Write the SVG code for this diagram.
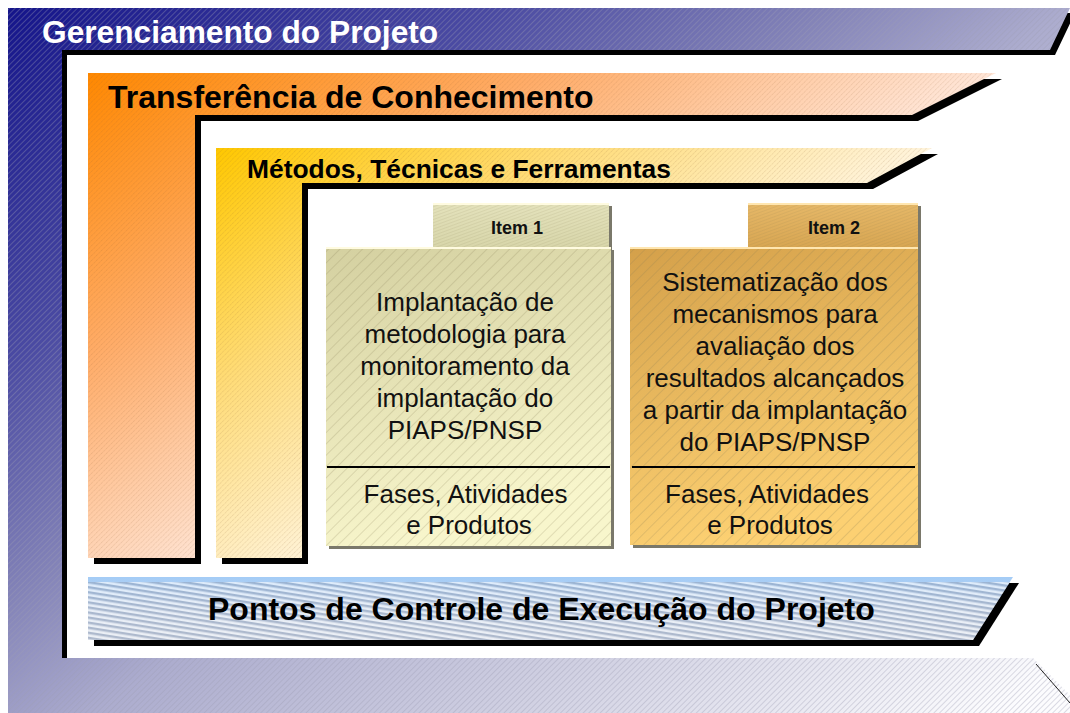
<svg xmlns="http://www.w3.org/2000/svg" width="1070" height="713" viewBox="0 0 1070 713">
<style>
.hd{font-family:"Liberation Sans",Arial,sans-serif;font-weight:bold;fill:#000}
.bd{font-family:"Liberation Sans",Arial,sans-serif;font-size:26px;fill:#111;text-anchor:middle}
.tab{font-family:"Liberation Sans",Arial,sans-serif;font-weight:bold;font-size:18px;fill:#111;text-anchor:middle}
.sh{fill:#000}
.bsh{fill:#7a786a}
.div{stroke:#000;stroke-width:2}
</style>
<defs>
<linearGradient id="gFrame" gradientUnits="userSpaceOnUse" x1="8" y1="8" x2="681" y2="942">
<stop offset="0" stop-color="#14148a"/>
<stop offset="0.25" stop-color="#4a4aa2"/>
<stop offset="0.42" stop-color="#8484b8"/>
<stop offset="0.54" stop-color="#acacce"/>
<stop offset="0.75" stop-color="#d0d0e2"/>
<stop offset="1" stop-color="#fcfcfe"/>
</linearGradient>
<linearGradient id="gOrange" gradientUnits="userSpaceOnUse" x1="88" y1="73" x2="345" y2="483">
<stop offset="0" stop-color="#ff8800"/>
<stop offset="0.5" stop-color="#ffac68"/>
<stop offset="1" stop-color="#ffe6d8"/>
</linearGradient>
<linearGradient id="gYellow" gradientUnits="userSpaceOnUse" x1="216" y1="148" x2="440" y2="480">
<stop offset="0" stop-color="#ffc800"/>
<stop offset="0.5" stop-color="#ffdc78"/>
<stop offset="1" stop-color="#fff4dc"/>
</linearGradient>
<linearGradient id="gBlue" x1="0" y1="0" x2="0" y2="1">
<stop offset="0" stop-color="#a4ccf6"/>
<stop offset="0.5" stop-color="#c4d4ea"/>
<stop offset="1" stop-color="#d0d8e6"/>
</linearGradient>
<linearGradient id="gI1" x1="0" y1="0" x2="0.3" y2="1">
<stop offset="0" stop-color="#d4d0a0"/>
<stop offset="1" stop-color="#f8f6cc"/>
</linearGradient>
<linearGradient id="gI1t" x1="0" y1="0" x2="0" y2="1">
<stop offset="0" stop-color="#e4e2bc"/>
<stop offset="1" stop-color="#d8d6aa"/>
</linearGradient>
<linearGradient id="gI2" x1="0" y1="0" x2="0.3" y2="1">
<stop offset="0" stop-color="#d4a04a"/>
<stop offset="1" stop-color="#fcd072"/>
</linearGradient>
<linearGradient id="gI2t" x1="0" y1="0" x2="0" y2="1">
<stop offset="0" stop-color="#e6b868"/>
<stop offset="1" stop-color="#d8a652"/>
</linearGradient>
<pattern id="hFrame" patternUnits="userSpaceOnUse" width="4" height="4" patternTransform="rotate(45)">
<line x1="0.5" y1="0" x2="0.5" y2="4" stroke="#9c9cb4" stroke-width="0.8" stroke-opacity="0.45"/>
</pattern>
<pattern id="hWarm" patternUnits="userSpaceOnUse" width="3.5" height="3.5" patternTransform="rotate(45)">
<line x1="0.5" y1="0" x2="0.5" y2="3.5" stroke="#8a5a30" stroke-width="0.7" stroke-opacity="0.22" stroke-dasharray="1.2 0.8"/>
</pattern>
<pattern id="hItem" patternUnits="userSpaceOnUse" width="8" height="8" patternTransform="rotate(45)">
<line x1="0.5" y1="0" x2="0.5" y2="8" stroke="#807a50" stroke-width="0.7" stroke-opacity="0.3"/>
</pattern>
<pattern id="hTab" patternUnits="userSpaceOnUse" width="3" height="3" patternTransform="rotate(70)">
<line x1="0.5" y1="0" x2="0.5" y2="3" stroke="#807a50" stroke-width="0.6" stroke-opacity="0.2"/>
</pattern>
<pattern id="hBlue" patternUnits="userSpaceOnUse" width="5" height="5" patternTransform="rotate(9)">
<rect x="0" y="0" width="5" height="2.5" fill="#8e9cb4" fill-opacity="0.5"/>
<rect x="0" y="2.5" width="5" height="2.5" fill="#ffffff" fill-opacity="0.6"/>
</pattern>
</defs>

<g id="frame">
<polygon class="sh" points="13,13 1075,13 1055,55 67,55 67,663 13,663"/>
<polygon fill="url(#gFrame)" points="8,8 1070,8 1050,50 62,50 62,658 1033,658 1088,713 8,713"/>
<polygon fill="url(#hFrame)" points="8,8 1070,8 1050,50 62,50 62,658 1033,658 1088,713 8,713"/>
<line x1="1036" y1="664" x2="1070" y2="703" stroke="#222" stroke-width="1"/>
<text x="42" y="43" font-family="Liberation Sans, Arial, sans-serif" font-weight="bold" font-size="31.7" fill="#fff">Gerenciamento do Projeto</text>
</g>

<g id="transferencia">
<polygon class="sh" points="94,79 1002,79 918,121 201,121 201,564 94,564"/>
<polygon fill="url(#gOrange)" points="88,73 996,73 912,115 195,115 195,558 88,558"/>
<polygon fill="url(#hWarm)" points="88,73 996,73 912,115 195,115 195,558 88,558"/>
<text class="hd" x="108" y="108" font-size="32">Transferência de Conhecimento</text>
</g>

<g id="metodos">
<polygon class="sh" points="222,154 938,154 873,189 308,189 308,564 222,564"/>
<polygon fill="url(#gYellow)" points="216,148 932,148 867,183 302,183 302,558 216,558"/>
<polygon fill="url(#hWarm)" points="216,148 932,148 867,183 302,183 302,558 216,558"/>
<text class="hd" x="247" y="177.5" font-size="26.4">Métodos, Técnicas e Ferramentas</text>
</g>

<g id="pontos">
<polygon class="sh" points="94,583 1019,583 979,646 94,646"/>
<polygon fill="url(#gBlue)" points="88,577 1013,577 973,640 88,640"/>
<polygon fill="url(#hBlue)" points="88,582 1010,582 973,640 88,640"/>
<text class="hd" x="208" y="620" font-size="32">Pontos de Controle de Execução do Projeto</text>
</g>

<g id="item1">
<rect class="bsh" x="436" y="206" width="176" height="44"/>
<rect x="433" y="203" width="176" height="44" fill="url(#gI1t)"/>
<rect x="433" y="203" width="176" height="44" fill="url(#hTab)"/>
<line x1="433" y1="204" x2="609" y2="204" stroke="#fffbe0" stroke-width="2"/>
<text class="tab" x="517" y="234">Item 1</text>
<rect class="bsh" x="329" y="250" width="285" height="299"/>
<rect x="326" y="247" width="285" height="299" fill="url(#gI1)"/>
<rect x="326" y="247" width="285" height="299" fill="url(#hItem)"/>
<line x1="326" y1="248" x2="611" y2="248" stroke="#fffbe0" stroke-width="2"/>
<text class="bd" x="465" y="311">Implantação de</text>
<text class="bd" x="465" y="343">metodologia para</text>
<text class="bd" x="465" y="375">monitoramento da</text>
<text class="bd" x="465" y="407">implantação do</text>
<text class="bd" x="465" y="439">PIAPS/PNSP</text>
<line class="div" x1="327" y1="467" x2="610" y2="467"/>
<text class="bd" x="465.5" y="503">Fases, Atividades</text>
<text class="bd" x="469" y="534">e Produtos</text>
</g>

<g id="item2">
<rect class="bsh" x="751" y="206" width="170" height="44"/>
<rect x="748" y="203" width="170" height="44" fill="url(#gI2t)"/>
<rect x="748" y="203" width="170" height="44" fill="url(#hTab)"/>
<line x1="748" y1="204" x2="918" y2="204" stroke="#ffe6b0" stroke-width="2"/>
<text class="tab" x="834" y="234">Item 2</text>
<rect class="bsh" x="633" y="250" width="288" height="298"/>
<rect x="630" y="247" width="288" height="298" fill="url(#gI2)"/>
<rect x="630" y="247" width="288" height="298" fill="url(#hItem)"/>
<line x1="630" y1="248" x2="918" y2="248" stroke="#ffe6b0" stroke-width="2"/>
<text class="bd" x="775" y="291">Sistematização dos</text>
<text class="bd" x="775" y="323">mecanismos para</text>
<text class="bd" x="775" y="355">avaliação dos</text>
<text class="bd" x="775" y="387">resultados alcançados</text>
<text class="bd" x="775" y="419">a partir da implantação</text>
<text class="bd" x="775" y="451">do PIAPS/PNSP</text>
<line class="div" x1="632" y1="467" x2="915" y2="467"/>
<text class="bd" x="767" y="503">Fases, Atividades</text>
<text class="bd" x="770" y="534">e Produtos</text>
</g>

<g id="connectors"/>
</svg>
